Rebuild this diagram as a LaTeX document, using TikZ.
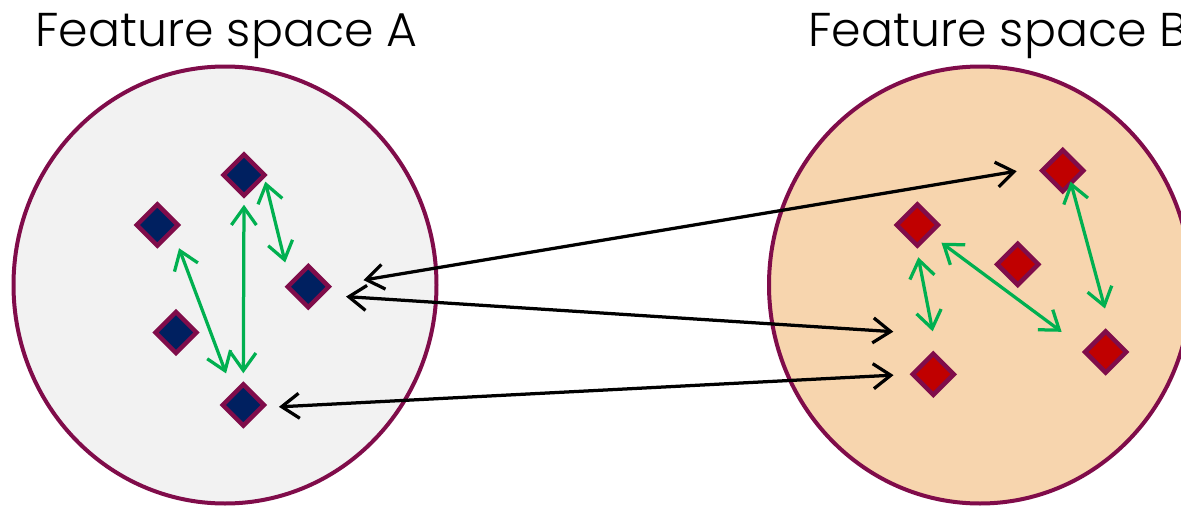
\documentclass[tikz,border=0pt]{standalone}
\usepackage{fontspec}
\setmainfont{Poppins}
\newfontfamily\titlefont{Poppins Light}
\usetikzlibrary{arrows.meta,shapes.geometric}
\definecolor{spaceline}{RGB}{128,12,74}
\definecolor{spacegrey}{RGB}{242,242,242}
\definecolor{spacepeach}{RGB}{247,213,174}
\definecolor{pointnavy}{RGB}{0,32,96}
\definecolor{pointred}{RGB}{192,0,0}
\definecolor{linkgreen}{RGB}{0,176,80}
\tikzset{space/.style={draw=spaceline,line width=0.08cm},
  point/.style={shape=diamond,aspect=1,draw=spaceline,line width=0.09cm,inner sep=0pt,
    minimum width=0.86cm,minimum height=0.86cm},
  link/.style={{Straight Barb[length=0.35cm,width=0.5cm]}-{Straight Barb[length=0.35cm,width=0.5cm]},
    line width=0.065cm},
  title/.style={font=\titlefont\fontsize{27}{31}\selectfont,anchor=base west,inner sep=0pt}}

\begin{document}
\begin{tikzpicture}[x=0.02cm,y=-0.02cm]
  \clip (0,0) rectangle (1181,507);
  \fill[white] (0,0) rectangle (1181,507);
  \draw[space,fill=spacegrey] (225,285) ellipse [x radius=211.5,y radius=218.5];
  \draw[space,fill=spacepeach] (980,285) ellipse [x radius=211,y radius=218.5];
  \node[title] (titleA) at (35,47) {Feature space A};
  \node[title] (titleB) at (808,47) {Feature space B};
  % feature space A
  \node[point,fill=pointnavy] (a1) at (244,175) {};
  \node[point,fill=pointnavy] (a2) at (157.3,225) {};
  \node[point,fill=pointnavy] (a3) at (308.3,286.7) {};
  \node[point,fill=pointnavy] (a4) at (176,332.5) {};
  \node[point,fill=pointnavy] (a5) at (243.3,405) {};
  % feature space B
  \node[point,fill=pointred] (b1) at (1062.7,170.7) {};
  \node[point,fill=pointred] (b2) at (917.3,225) {};
  \node[point,fill=pointred] (b3) at (1017.7,264.3) {};
  \node[point,fill=pointred] (b4) at (1105.7,352) {};
  \node[point,fill=pointred] (b5) at (933.3,374.3) {};
  \coordinate (gapB) at (893.3,331.7);
  \draw[link,linkgreen,shorten <=0.12cm,shorten >=0.16cm] (a1.south) -- (a5.north);
  \draw[link,linkgreen,shorten <=0.07cm,shorten >=0.39cm] (a1.-9) -- (a3.164);
  \draw[link,linkgreen,shorten <=0.33cm,shorten >=0.39cm] (a2.-26) -- (a5.128);
  \draw[link,linkgreen,shorten <=-0.08cm,shorten >=0.54cm] (b1.-59) -- (b4.70);
  \draw[link,linkgreen,shorten <=0.19cm,shorten >=0.47cm] (b2.-92) -- (b5.79);
  \draw[link,linkgreen,shorten <=0.26cm,shorten >=0.58cm] (b2.-36) -- (b4.172);
  \draw[link,shorten <=0.66cm,shorten >=0.53cm] (a3.3) -- (b1.169);
  \draw[link,shorten <=0.45cm] (a3.-29) -- (gapB);
  \draw[link,shorten <=0.29cm,shorten >=0.32cm] (a5.-7) -- (b5.west);
\end{tikzpicture}
\end{document}
